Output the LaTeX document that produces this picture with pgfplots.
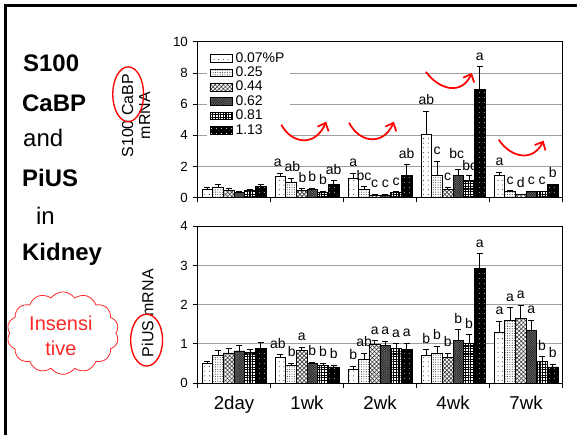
\documentclass[border=0pt]{standalone}
\usepackage{pgfplots}
\pgfplotsset{compat=1.18}
\usepackage{fontspec}
\setmainfont{Liberation Sans}
\usetikzlibrary{patterns,patterns.meta,arrows.meta,shapes.symbols}

\tikzset{
 s1/.style={draw=black, line width=0.5pt, fill=white, postaction={pattern={Dots[distance=3.5pt,radius=0.35pt]}, pattern color=black}},
 s2/.style={draw=black, line width=0.5pt, fill=white, postaction={pattern={Dots[distance=1.8pt,radius=0.4pt]}, pattern color=black!80}},
 s3/.style={draw=black, line width=0.5pt, fill=white, postaction={pattern={Hatch[angle=45,distance=2.2pt,line width=0.5pt]}, pattern color=black!75}},
 s4/.style={draw=black, line width=0.5pt, fill=black!55, postaction={pattern={Hatch[angle=45,distance=1.2pt,line width=0.3pt]}, pattern color=black!85}},
 s5/.style={draw=black, line width=0.5pt, fill=white, postaction={pattern={Hatch[angle=0,distance=2pt,line width=0.9pt]}, pattern color=black}},
 s6/.style={draw=black, line width=0.5pt, fill=black, postaction={pattern={Dots[distance=4pt,radius=0.4pt]}, pattern color=white}},
}

\pgfplotsset{myax/.style={
 scale only axis, width=274.5pt, xmin=-0.5, xmax=4.5, ybar, bar width=0.146,
 axis line style={black, line width=0.6pt},
 ymajorgrids, grid style={gray!75, line width=0.6pt},
 tick align=outside, xtick pos=left, ytick pos=left, major tick length=3.75pt,
 tick style={black, line width=0.6pt},
 xtick={-0.5,0.5,...,4.5}, xticklabels={},
 ticklabel style={font=\fontsize{10}{12}\selectfont},
 /pgf/number format/assume math mode=true,
 error bars/y dir=plus, error bars/y explicit,
 error bars/error bar style={black, line width=0.6pt},
 error bars/error mark options={rotate=90, mark size=2.2pt, black, line width=0.6pt},
 clip=false,
}}

\newcommand{\lab}[3]{\node[anchor=base, inner sep=0pt, yshift=5pt, font=\fontsize{10.5}{12}\selectfont] at (axis cs:#1,#2) {#3};}

\begin{document}
\begin{tikzpicture}
\path (0,0) rectangle (433.5pt,-327pt);
\draw[line width=2.25pt] (4.1pt,-327pt) -- (4.1pt,-4.1pt) -- (433.5pt,-4.1pt);

% ---------------- upper axis: S100 CaBP
\begin{axis}[myax, at={(148.5pt,-31.5pt)}, anchor=north west, height=117pt,
  ymin=0, ymax=10, ytick={0,2,...,10}, area legend,
  legend style={at={(0.025,0.96)}, anchor=north west, draw=none, fill=white,
    font=\fontsize{10.5}{11}\selectfont, row sep=0pt, inner xsep=2pt, inner ysep=2pt,
    nodes={inner ysep=1pt}},
  legend cell align=left]
\addplot[s1, bar shift=-0.365] coordinates {(0,0.52) +- (0,0.13) (1,1.38) +- (0,0.17) (2,1.23) +- (0,0.32) (3,4.09) +- (0,1.46) (4,1.40) +- (0,0.20)};
\addplot[s2, bar shift=-0.219] coordinates {(0,0.67) +- (0,0.17) (1,0.97) +- (0,0.26) (2,0.52) +- (0,0.17) (3,1.40) +- (0,0.94) (4,0.37) +- (0,0.06)};
\addplot[s3, bar shift=-0.073] coordinates {(0,0.47) +- (0,0.09) (1,0.47) +- (0,0.09) (2,0.17) +- (0,0.03) (3,0.54) +- (0,0.11) (4,0.20) +- (0,0.03)};
\addplot[s4, bar shift=0.073] coordinates {(0,0.32) +- (0,0.04) (1,0.52) +- (0,0.06) (2,0.17) +- (0,0.03) (3,1.42) +- (0,0.41) (4,0.37) +- (0,0.05)};
\addplot[s5, bar shift=0.219] coordinates {(0,0.45) +- (0,0.05) (1,0.34) +- (0,0.06) (2,0.32) +- (0,0.05) (3,1.12) +- (0,0.32) (4,0.37) +- (0,0.05)};
\addplot[s6, bar shift=0.365] coordinates {(0,0.73) +- (0,0.13) (1,0.86) +- (0,0.22) (2,1.40) +- (0,0.70) (3,6.92) +- (0,1.48) (4,0.82) +- (0,0.05)};
\legend{0.07\%P,0.25,0.44,0.62,0.81,1.13}
\draw[black, line width=0.7pt] (rel axis cs:0.033,0.372) -- (rel axis cs:0.232,0.372);
\lab{0.60}{1.55}{a}\lab{0.80}{1.23}{ab}\lab{0.94}{0.56}{b}\lab{1.073}{0.58}{b}\lab{1.219}{0.40}{b}\lab{1.365}{1.08}{ab}
\lab{1.635}{1.55}{a}\lab{1.781}{0.69}{bc}\lab{1.927}{0.20}{c}\lab{2.073}{0.20}{c}\lab{2.219}{0.37}{c}\lab{2.365}{2.10}{ab}
\lab{2.635}{5.55}{ab}\lab{2.781}{2.34}{c}\lab{2.927}{0.65}{c}\lab{3.05}{2.05}{bc}\lab{3.23}{1.30}{bc}\lab{3.365}{8.40}{a}
\lab{3.635}{1.60}{a}\lab{3.781}{0.43}{c}\lab{3.927}{0.23}{d}\lab{4.073}{0.42}{c}\lab{4.219}{0.42}{c}\lab{4.365}{0.87}{b}
\end{axis}

% ---------------- lower axis: PiUS
\begin{axis}[myax, at={(148.5pt,-170.25pt)}, anchor=north west, height=117.75pt,
  ymin=0, ymax=4, ytick={0,1,...,4},
  extra x ticks={0,1,2,3,4}, extra x tick labels={2day,1wk,2wk,4wk,7wk},
  extra x tick style={major tick length=0pt, xticklabel style={font=\fontsize{14}{16}\selectfont, yshift=-6pt}}]
\addplot[s1, bar shift=-0.365] coordinates {(0,0.50) +- (0,0.06) (1,0.65) +- (0,0.07) (2,0.36) +- (0,0.07) (3,0.70) +- (0,0.15) (4,1.30) +- (0,0.27)};
\addplot[s2, bar shift=-0.219] coordinates {(0,0.70) +- (0,0.13) (1,0.45) +- (0,0.05) (2,0.60) +- (0,0.16) (3,0.75) +- (0,0.18) (4,1.60) +- (0,0.32)};
\addplot[s3, bar shift=-0.073] coordinates {(0,0.77) +- (0,0.11) (1,0.83) +- (0,0.09) (2,0.99) +- (0,0.09) (3,0.66) +- (0,0.10) (4,1.66) +- (0,0.33)};
\addplot[s4, bar shift=0.073] coordinates {(0,0.82) +- (0,0.15) (1,0.51) +- (0,0.02) (2,0.97) +- (0,0.09) (3,1.09) +- (0,0.27) (4,1.34) +- (0,0.26)};
\addplot[s5, bar shift=0.219] coordinates {(0,0.79) +- (0,0.08) (1,0.44) +- (0,0.06) (2,0.88) +- (0,0.12) (3,1.01) +- (0,0.22) (4,0.56) +- (0,0.11)};
\addplot[s6, bar shift=0.365] coordinates {(0,0.88) +- (0,0.15) (1,0.41) +- (0,0.04) (2,0.86) +- (0,0.15) (3,2.93) +- (0,0.37) (4,0.41) +- (0,0.07)};
\lab{0.60}{0.72}{ab}\lab{0.79}{0.50}{b}\lab{0.927}{0.92}{a}\lab{1.073}{0.53}{b}\lab{1.219}{0.50}{b}\lab{1.365}{0.45}{b}
\lab{1.635}{0.43}{b}\lab{1.781}{0.76}{ab}\lab{1.927}{1.08}{a}\lab{2.073}{1.06}{a}\lab{2.219}{1.00}{a}\lab{2.365}{1.01}{a}
\lab{2.635}{0.85}{b}\lab{2.781}{0.93}{b}\lab{2.927}{0.76}{b}\lab{3.073}{1.36}{b}\lab{3.219}{1.23}{b}\lab{3.365}{3.30}{a}
\lab{3.635}{1.57}{a}\lab{3.781}{1.92}{a}\lab{3.927}{1.99}{a}\lab{4.073}{1.60}{a}\lab{4.219}{0.67}{b}\lab{4.365}{0.48}{b}
\end{axis}

% ---------------- annotations in pixel coordinates
\begin{scope}[x=0.75pt,y=-0.75pt]
\tikzset{lefttxt/.style={anchor=base west, inner sep=0pt, font=\fontsize{18}{20}\selectfont}}
\node[lefttxt, font=\fontsize{18}{20}\selectfont\bfseries] at (23,72) {S100};
\node[lefttxt, font=\fontsize{18}{20}\selectfont\bfseries] at (22,112) {CaBP};
\node[lefttxt] at (23,147) {and};
\node[lefttxt, font=\fontsize{18}{20}\selectfont\bfseries] at (22,187) {PiUS};
\node[lefttxt] at (36,225) {in};
\node[lefttxt, font=\fontsize{18}{20}\selectfont\bfseries] at (22,261) {Kidney};

\node[rotate=90, align=center, font=\fontsize{12}{12.75}\selectfont] at (136.5,116) {S100 CaBP\\mRNA};
\node[rotate=90, font=\fontsize{12}{14}\selectfont] at (148,314) {PiUS mRNA};

\draw[red, line width=1pt] (128.5,94.5) ellipse [x radius=11.6pt, y radius=20.6pt];
\draw[red, line width=1pt] (147,341) ellipse [x radius=12pt, y radius=19.5pt];

\node[cloud, draw=red!85, line width=0.6pt, cloud puffs=14, cloud puff arc=110, aspect=1.35,
      minimum width=84pt, minimum height=62pt, inner sep=0pt] at (63,334) {};
\node[align=center, text=red!85, font=\fontsize{15}{18.75}\selectfont] at (61,337) {Insensi\\tive};

\begin{scope}[red, line width=1.3pt, -{Straight Barb[length=5pt,width=9pt]}]
\draw (282,125) .. controls (292,144) and (316,148) .. (327,122);
\draw (350,123) .. controls (360,143) and (384,147) .. (395,122);
\draw (427,72) .. controls (440,90) and (463,96) .. (473,73);
\draw (500,140) .. controls (512,158) and (534,163) .. (545,141);
\end{scope}
\end{scope}
\end{tikzpicture}
\end{document}
